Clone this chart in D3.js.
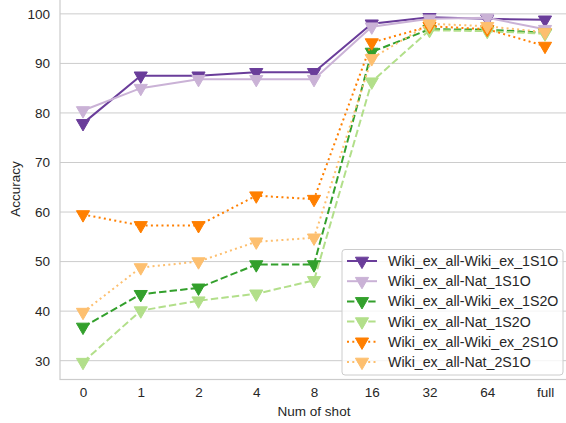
<!DOCTYPE html>
<html><head><meta charset="utf-8">
<script src="https://cdn.jsdelivr.net/npm/d3@7"></script>
<style>html,body{margin:0;padding:0;background:#fff;}svg{display:block;}</style>
</head><body>
<svg id="chart" width="566" height="423"></svg>
<script>
const categories = ["0","1","2","4","8","16","32","64","full"];
const seriesNames = ["Wiki_ex_all-Wiki_ex_1S1O","Wiki_ex_all-Nat_1S1O","Wiki_ex_all-Wiki_ex_1S2O","Wiki_ex_all-Nat_1S2O","Wiki_ex_all-Wiki_ex_2S1O","Wiki_ex_all-Nat_2S1O"];
const wikiEx1S1O = [77.9, 87.5, 87.5, 88.2, 88.2, 98.0, 99.3, 99.0, 98.8];
const nat1S1O    = [80.5, 85.0, 86.8, 86.8, 86.8, 97.4, 99.0, 99.2, 96.9];
const wikiEx1S2O = [36.8, 43.4, 44.7, 49.4, 49.4, 92.3, 96.9, 96.8, 96.2];
const nat1S2O    = [29.7, 40.1, 42.1, 43.5, 46.2, 86.3, 96.7, 96.5, 96.0];
const wikiEx2S1O = [59.5, 57.3, 57.3, 63.3, 62.6, 94.2, 97.5, 96.9, 93.5];
const nat2S1O    = [39.8, 48.8, 50.0, 54.0, 54.8, 91.0, 98.0, 97.5, 96.3];
const yTicks = [30, 40, 50, 60, 70, 80, 90, 100];
const colors = ["#6a3d9a","#cab2d6","#33a02c","#b2df8a","#ff7f00","#fdbf6f"];
const dashes = [null, null, "7.4,3.2", "7.4,3.2", "2,3.3", "2,3.3"];

const data = [wikiEx1S1O, nat1S1O, wikiEx1S2O, nat1S2O, wikiEx2S1O, nat2S1O];

const svg = d3.select("#chart");
const mLeft = 60, mRight = 568, mTop = -1, mBottom = 379.5;
const x = d3.scalePoint().domain(categories).range([83, 545]);
const y = d3.scaleLinear().domain([26.2, 103.0]).range([mBottom, mTop]);
const font = "Liberation Sans, Arial, sans-serif";
const textColor = "#262626";
const fs = 13.5;

// grid
svg.append("g").selectAll("line").data(yTicks).join("line")
  .attr("x1", mLeft).attr("x2", mRight)
  .attr("y1", d => y(d)).attr("y2", d => y(d))
  .attr("stroke", "#cccccc").attr("stroke-width", 1);

// spines
svg.append("rect").attr("x", mLeft).attr("y", mTop).attr("width", mRight-mLeft).attr("height", mBottom-mTop)
  .attr("fill", "none").attr("stroke", "#cccccc").attr("stroke-width", 1.2);

// axes
const yAxis = svg.append("g").attr("transform", `translate(${mLeft},0)`)
  .call(d3.axisLeft(y).tickValues(yTicks).tickSize(0).tickPadding(10));
yAxis.select(".domain").remove();
yAxis.selectAll("text").attr("font-family", font).attr("font-size", fs).attr("fill", textColor);

const xAxis = svg.append("g").attr("transform", `translate(0,${mBottom})`)
  .call(d3.axisBottom(x).tickSize(0).tickPadding(8));
xAxis.select(".domain").remove();
xAxis.selectAll("text").attr("font-family", font).attr("font-size", fs).attr("fill", textColor);

svg.append("text").attr("x", 314).attr("y", 416).attr("text-anchor", "middle")
  .attr("font-family", font).attr("font-size", fs).attr("fill", textColor).text("Num of shot");
svg.append("text").attr("transform", "translate(20,189) rotate(-90)").attr("text-anchor", "middle")
  .attr("font-family", font).attr("font-size", fs).attr("fill", textColor).text("Accuracy");

const tri = d3.symbol().type(d3.symbolTriangle).size(75);
const line = d3.line().x((d,i) => x(categories[i])).y(d => y(d));

data.forEach((vals, s) => {
  const g = svg.append("g");
  g.append("path").attr("d", line(vals)).attr("fill", "none")
    .attr("stroke", colors[s]).attr("stroke-width", 2)
    .attr("stroke-dasharray", dashes[s]);
  g.selectAll("path.m").data(vals).join("path").attr("class", "m")
    .attr("d", tri)
    .attr("transform", (d,i) => `translate(${x(categories[i])},${y(d)}) rotate(180)`)
    .attr("fill", colors[s]).attr("stroke", colors[s]).attr("stroke-width", 1);
});

// legend
const lg = svg.append("g");
lg.append("rect").attr("x", 342).attr("y", 249.5).attr("width", 221).attr("height", 125.5)
  .attr("rx", 3).attr("fill", "#ffffff").attr("fill-opacity", 0.8)
  .attr("stroke", "#cccccc").attr("stroke-width", 1);
seriesNames.forEach((name, s) => {
  const yy = 261 + s * 20.2;
  lg.append("line").attr("x1", 347).attr("x2", 377).attr("y1", yy).attr("y2", yy)
    .attr("stroke", colors[s]).attr("stroke-width", 2).attr("stroke-dasharray", dashes[s]);
  lg.append("path").attr("d", tri).attr("transform", `translate(362,${yy}) rotate(180)`)
    .attr("fill", colors[s]).attr("stroke", colors[s]).attr("stroke-width", 1);
  lg.append("text").attr("x", 388).attr("y", yy + 5).attr("font-family", font)
    .attr("font-size", 14.2).attr("fill", textColor).text(name);
});
</script>
</body></html>
